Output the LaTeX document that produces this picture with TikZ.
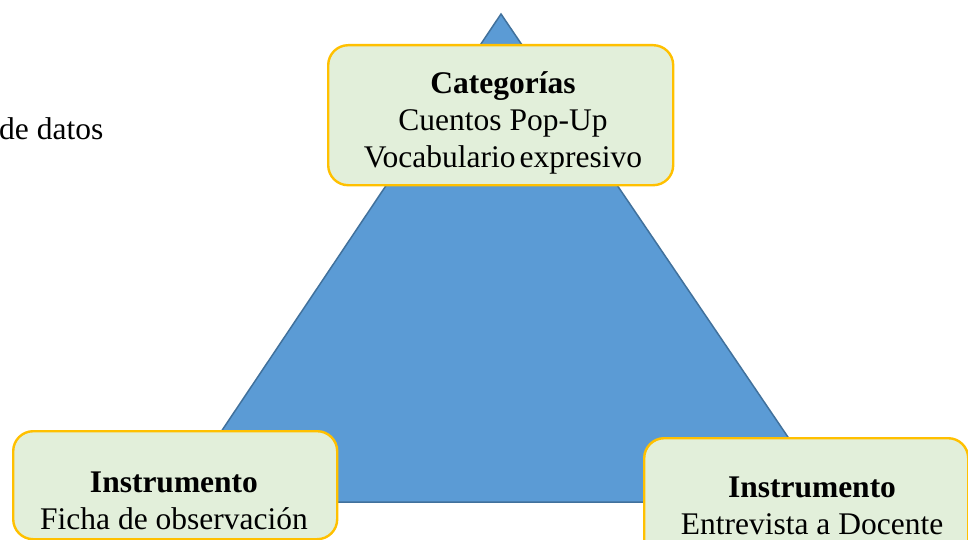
\documentclass[tikz,border=0pt]{standalone}
\usepackage{fontspec}
\setmainfont{Liberation Serif}
\usetikzlibrary{positioning}
\definecolor{triblue}{HTML}{5B9BD5}
\definecolor{triedge}{HTML}{41719C}
\definecolor{boxgreen}{HTML}{E2EFDA}
\definecolor{boxgold}{HTML}{FFC000}
\begin{document}
\begin{tikzpicture}[x=1pt,y=-1pt,
  cat box/.style={draw=boxgold,line width=2.4pt,fill=boxgreen,rounded corners=20pt,inner sep=0pt,anchor=north west},
  box text/.style={align=center,font=\fontsize{31.5}{37}\selectfont,inner sep=0pt}]
	\useasboundingbox (0,0) rectangle (968,540);

	% triangle
	\coordinate (apex) at (501,14);
	\coordinate (baseL) at (174,502);
	\coordinate (baseR) at (832,502);
	\filldraw[fill=triblue,draw=triedge,line width=1.5pt] (apex) -- (baseL) -- (baseR) -- cycle;

	\node[box text,anchor=base west] (datos) at (-1,140) {de datos};

	\node[cat box,minimum width=345,minimum height=140] (catbox) at (327,44) {};
	\node[box text] (cattext) at (503,123) {\textbf{Categorías}\\Cuentos Pop-Up\\Vocabulario\hspace{4pt}expresivo};

	\node[cat box,minimum width=324,minimum height=108] (obsbox) at (12,430) {};
	\node[box text] (obstext) at (174,501) {\textbf{Instrumento}\\Ficha de observación};

	\node[cat box,minimum width=324,minimum height=130] (entbox) at (643,437) {};
	\node[box text] (enttext) at (812,505.5) {\textbf{Instrumento}\\Entrevista a Docente};

\end{tikzpicture}
\end{document}
